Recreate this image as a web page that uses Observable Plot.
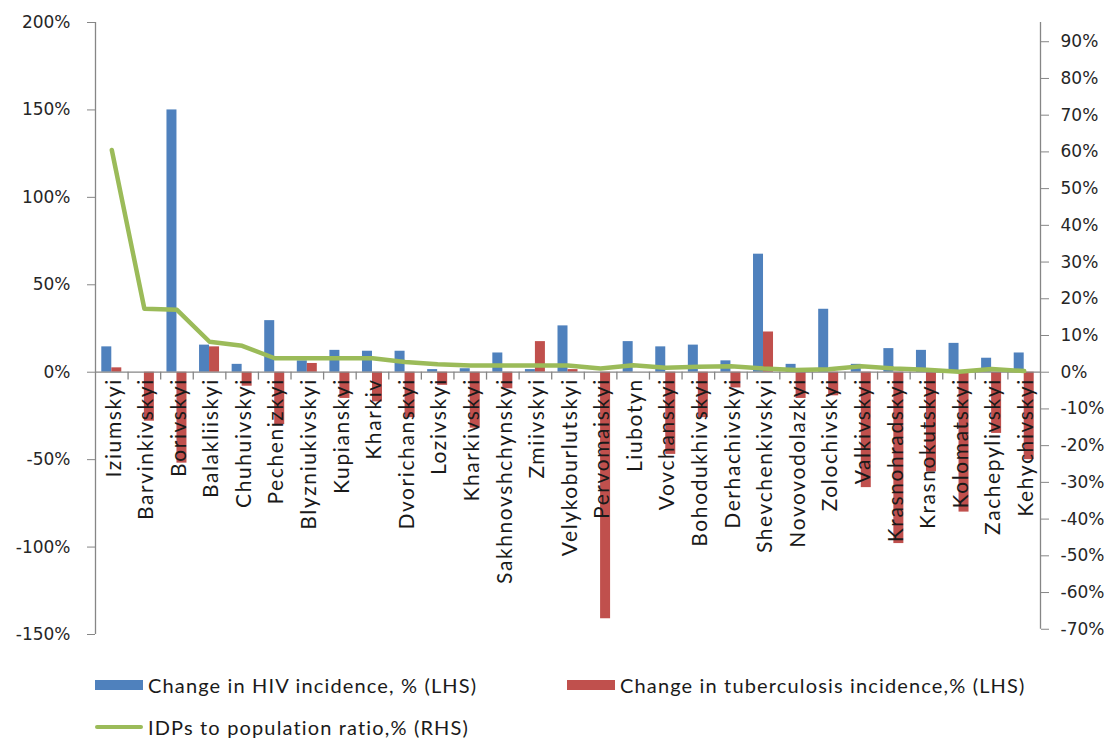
<!DOCTYPE html>
<html>
<head>
<meta charset="utf-8">
<script src="https://cdn.jsdelivr.net/npm/d3@7"></script>
<script src="https://cdn.jsdelivr.net/npm/@observablehq/plot@0.6"></script>
<style>
  html, body { margin: 0; padding: 0; background: #fff; }
  #wrap { position: relative; width: 1115px; height: 738px; overflow: hidden; }
  #legend { position: absolute; left: 0; top: 0; width: 1115px; height: 738px; pointer-events: none;
            font-family: Lato, "Open Sans", sans-serif; font-size: 20px; letter-spacing: 1.15px; color: #1a1a1a; }
  .item { position: absolute; display: flex; align-items: center; white-space: nowrap; }
  .sw { display: inline-block; width: 48px; height: 10px; margin-right: 5px; }
  .ln { display: inline-block; width: 48px; height: 4.5px; border-radius: 3px; margin-right: 5px; }
</style>
</head>
<body>
<div id="wrap">
  <div id="chart"></div>
  <div id="legend"></div>
</div>
<script>
// Districts of Kharkiv oblast, ordered by IDP share
const categories = [
  "Iziumskyi", "Barvinkivskyi", "Borivskyi", "Balakliiskyi", "Chuhuivskyi",
  "Pechenizkyi", "Blyzniukivskyi", "Kupianskyi", "Kharkiv", "Dvorichanskyi",
  "Lozivskyi", "Kharkivskyi", "Sakhnovshchynskyi", "Zmiivskyi", "Velykoburlutskyi",
  "Pervomaiskyi", "Liubotyn", "Vovchanskyi", "Bohodukhivskyi", "Derhachivskyi",
  "Shevchenkivskyi", "Novovodolazkyi", "Zolochivskyi", "Valkivskyi", "Krasnohradskyi",
  "Krasnokutskyi", "Kolomatskyi", "Zachepylivskyi", "Kehychivskyi"
];

// Change in HIV incidence, % (left axis)
const hivChange = [
  14.5, 0, 150, 15.5, 4.5,
  29.5, 6.5, 12.5, 12, 12,
  1.5, 2, 11, 1.5, 26.5,
  0, 17.5, 14.5, 15.5, 6.5,
  67.5, 4.5, 36, 4.5, 13.5,
  12.5, 16.5, 8, 11
];

// Change in tuberculosis incidence, % (left axis)
const tbChange = [
  2.5, -28, -52, 14.5, -8,
  -30, 5, -15, -17, -26,
  -7.5, -32, -9.5, 17.5, 1.5,
  -141, 0, -47, -26, -9,
  23, -15, -13.5, -66, -98,
  -57, -80, -35, -50
];

// IDPs to population ratio, % (right axis)
const idpRatio = [
  60.5, 17.3, 17, 8.3, 7.2,
  3.8, 3.8, 3.8, 3.8, 2.8,
  2.2, 1.8, 1.8, 1.8, 1.8,
  1.0, 1.9, 1.2, 1.5, 1.6,
  1.0, 0.6, 0.8, 1.6, 1.0,
  0.7, 0.1, 0.9, 0.3
];

const leftTicks = [-150, -100, -50, 0, 50, 100, 150, 200];
const rightTicks = [-70, -60, -50, -40, -30, -20, -10, 0, 10, 20, 30, 40, 50, 60, 70, 80, 90];

const seriesNames = [
  "Change in HIV incidence, % (LHS)",
  "Change in tuberculosis incidence,% (LHS)",
  "IDPs to population ratio,% (RHS)"
];
const colors = ["#4F81BD", "#C0504D", "#9BBB59"];

// the right-hand axis shares the y scale: one RHS percent = k LHS percent
const k = 2.1;

const rows = categories.map((name, i) => ({
  name, hiv: hivChange[i], tb: tbChange[i], idp: idpRatio[i]
}));

const W = 1115, H = 660, ml = 95, mr = 75, mt = 22, mb = 26;
const n = categories.length;
const step = (W - ml - mr) / n;
const barW = 10;
const axisGray = "#868686";
const ink = "#262626";

const chart = Plot.plot({
  width: W,
  height: H,
  marginLeft: ml,
  marginRight: mr,
  marginTop: mt,
  marginBottom: mb,
  style: { background: "white", fontFamily: "'DejaVu Sans', Verdana, sans-serif" },
  x: { type: "band", domain: categories, padding: 0, round: false, axis: null },
  y: { domain: [-150, 200], axis: null },
  marks: [
    Plot.barY(rows, { x: "name", y: "hiv", fill: colors[0], insetLeft: step / 2 - barW, insetRight: step / 2 }),
    Plot.barY(rows, { x: "name", y: "tb", fill: colors[1], insetLeft: step / 2, insetRight: step / 2 - barW }),
    Plot.ruleY([0], { stroke: axisGray, strokeWidth: 1.3 }),
    // category separators hanging below the zero line
    Plot.ruleX(categories.slice(1), { x: d => d, dx: -step / 2, y1: 0, y2: -4.5, stroke: axisGray, strokeWidth: 1.3 }),
    // left and right axis lines
    Plot.ruleX([categories[0]], { x: d => d, dx: -step / 2, y1: -150, y2: 200, stroke: axisGray, strokeWidth: 1.3 }),
    Plot.ruleX([categories[n - 1]], { x: d => d, dx: step / 2, y1: -70 * k, y2: 200, stroke: axisGray, strokeWidth: 1.3 }),
    Plot.axisY(leftTicks, {
      anchor: "left", tickSize: 8, tickPadding: 17, fontSize: 17,
      stroke: axisGray, fill: ink, tickFormat: d => d + "%", label: null
    }),
    Plot.axisY(rightTicks.map(r => r * k), {
      anchor: "right", tickSize: 8, tickPadding: 12, fontSize: 17,
      stroke: axisGray, fill: ink, tickFormat: v => Math.round(v / k) + "%", label: null
    }),
    Plot.line(rows, { x: "name", y: d => d.idp * k, stroke: colors[2], strokeWidth: 4.5, strokeLinejoin: "round" }),
    Plot.text(rows, {
      x: "name", y: 0, text: "name", rotate: -90, textAnchor: "end", dy: 6, dx: 2,
      fontSize: 21, fontFamily: "Lato, 'Open Sans', sans-serif", fill: "#1a1a1a"
    })
  ]
});

d3.select(chart).selectAll("text").filter(function () {
  return categories.includes(this.textContent);
}).style("letter-spacing", "1.6px");

document.getElementById("chart").appendChild(chart);

// legend below the plot
const legend = document.getElementById("legend");
const items = [
  { name: seriesNames[0], color: colors[0], kind: "sw", left: 95, top: 685 },
  { name: seriesNames[1], color: colors[1], kind: "sw", left: 567, top: 685 },
  { name: seriesNames[2], color: colors[2], kind: "ln", left: 95, top: 727 }
];
for (const it of items) {
  const div = document.createElement("div");
  div.className = "item";
  div.style.left = it.left + "px";
  div.style.top = (it.top - 12) + "px";
  div.style.height = "24px";
  const key = document.createElement("span");
  key.className = it.kind;
  key.style.background = it.color;
  const label = document.createElement("span");
  label.textContent = it.name;
  div.appendChild(key);
  div.appendChild(label);
  legend.appendChild(div);
}
</script>
</body>
</html>
